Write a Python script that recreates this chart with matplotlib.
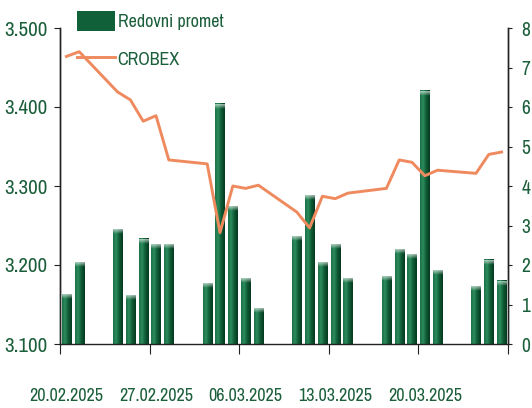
import numpy as np
import matplotlib.pyplot as plt
import matplotlib.dates as mdates
from matplotlib import font_manager
from matplotlib.colors import LinearSegmentedColormap
from matplotlib.patches import Rectangle
from matplotlib.lines import Line2D
from matplotlib.ticker import FuncFormatter
from datetime import datetime

# uski font ako postoji
names = sorted(set((f.name, f.stretch) for f in font_manager.fontManager.ttflist))
narrow = [n for n, s in names if 'Narrow' in n or 'Condensed' in n]
plt.rcParams['font.family'] = narrow[:1] + ['DejaVu Sans']
plt.rcParams['font.stretch'] = 'condensed'

dates = ['20.02.2025', '21.02.2025',
         '24.02.2025', '25.02.2025', '26.02.2025', '27.02.2025', '28.02.2025',
         '03.03.2025', '04.03.2025', '05.03.2025', '06.03.2025', '07.03.2025',
         '10.03.2025', '11.03.2025', '12.03.2025', '13.03.2025', '14.03.2025',
         '17.03.2025', '18.03.2025', '19.03.2025', '20.03.2025', '21.03.2025',
         '24.03.2025', '25.03.2025', '26.03.2025']
promet = [1.25, 2.07,
          2.91, 1.24, 2.66, 2.53, 2.53,
          1.54, 6.08, 3.49, 1.66, 0.91,
          2.73, 3.77, 2.07, 2.53, 1.67,
          1.72, 2.40, 2.27, 6.41, 1.87,
          1.45, 2.13, 1.60]
crobex = [3464, 3470,
          3419, 3409, 3382, 3389, 3333,
          3328, 3241, 3300, 3297, 3301,
          3267, 3247, 3287, 3284, 3291,
          3297, 3333, 3330, 3313, 3320,
          3316, 3340, 3343]
tick_dates = ['20.02.2025', '27.02.2025', '06.03.2025', '13.03.2025', '20.03.2025', '27.03.2025']

green_txt = '#1b5e3a'
orange = '#ef8a5f'

dt = [datetime.strptime(d, '%d.%m.%Y') for d in dates]
xs = mdates.date2num(dt) + 0.5
tdt = [datetime.strptime(d, '%d.%m.%Y') for d in tick_dates]

fig = plt.figure(figsize=(5.32, 4.08), dpi=100)
ax = fig.add_axes([60/532, 64/408, 448/532, 316/408])
ax2 = ax.twinx()

body = LinearSegmentedColormap.from_list('g', [(0, '#1d7048'), (0.3, '#2b8c5c'),
                                                (0.65, '#0f5a35'), (1, '#053a20')])
grad = body(np.linspace(0, 1, 32))[None, :, :3]
cap = np.repeat(grad, 8, axis=0)
fade = np.linspace(0.6, 0, 8)[:, None, None]
cap = cap * (1 - fade) + fade
bars = ax.bar(xs, promet, width=0.72, color='none', edgecolor='none')
for b in bars:
    x0, w, h = b.get_x(), b.get_width(), b.get_height()
    ax.imshow(grad, extent=[x0, x0 + w, 0, h], aspect='auto', interpolation='bilinear', zorder=2)
    ax.imshow(cap, extent=[x0, x0 + w, h - 0.12, h], aspect='auto', interpolation='bilinear', zorder=3)

ax2.plot(xs, crobex, color=orange, lw=2.1)

ax.set_xlim(mdates.date2num(tdt[0]), mdates.date2num(tdt[-1]))
ax.set_ylim(0, 8)
ax2.set_ylim(3100, 3500)

ax.yaxis.tick_right()
ax2.yaxis.tick_left()
ax.set_yticks(range(0, 9))
ax2.set_yticks([3100, 3200, 3300, 3400, 3500])
ax2.yaxis.set_major_formatter(FuncFormatter(lambda v, p: f'{v:,.0f}'.replace(',', '.')))

ax.set_xticks(mdates.date2num(tdt))
ax.set_xticklabels([])
ax.set_xticks(mdates.date2num(tdt[:-1]) + 0.5, minor=True)
ax.set_xticklabels(tick_dates[:-1], minor=True)
ax.tick_params(axis='x', which='major', direction='out', length=7, color='#222222')
ax.tick_params(axis='x', which='minor', length=0, pad=32, labelsize=13, labelcolor=green_txt)
# desna os (promet)
ax.tick_params(axis='y', direction='out', length=3, pad=6.5, labelsize=14, labelcolor=green_txt, color='#222222')
# lijeva os (CROBEX)
ax2.tick_params(axis='y', direction='out', length=4, pad=5, labelsize=15, labelcolor=green_txt, color='#222222')

for a in (ax, ax2):
    a.spines['top'].set_visible(False)
    for s in ('left', 'right', 'bottom'):
        a.spines[s].set_color('#222222')
        a.spines[s].set_linewidth(1)
ax2.spines['bottom'].set_visible(False)

handles = [Rectangle((0, 0), 1, 1, facecolor='#10603a', edgecolor='none'),
           Line2D([0], [0], color=orange, lw=2.1)]
leg = fig.legend(handles, ['Redovni promet', 'CROBEX'], loc='upper left',
                 bbox_to_anchor=(77/532, 1 - 11/408), frameon=False, fontsize=13,
                 borderpad=0, borderaxespad=0, handlelength=2.1, handleheight=1.3,
                 handletextpad=0.15, labelspacing=1.0)
for t in leg.get_texts():
    t.set_color(green_txt)

fig.savefig('out.png', dpi=100)
